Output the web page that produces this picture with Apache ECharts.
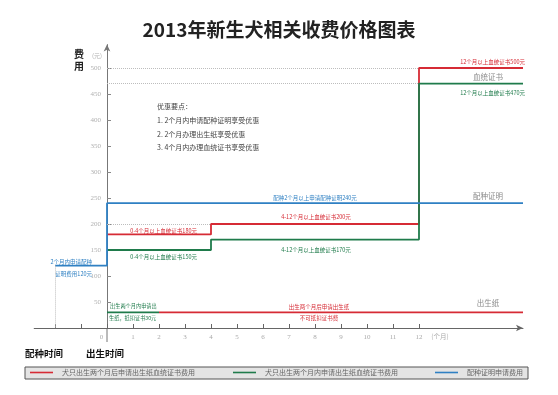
<!DOCTYPE html>
<html>
<head>
<meta charset="utf-8">
<script src="https://cdn.jsdelivr.net/npm/echarts@6/dist/echarts.min.js"></script>
<style>
html,body{margin:0;padding:0;background:#fff;}
#c{width:558px;height:395px;}
</style>
</head>
<body>
<div id="c"></div>
<script>
// ---- data ----
const seriesNames = ['犬只出生两个月后申请出生纸血统证书费用', '犬只出生两个月内申请出生纸血统证书费用', '配种证明申请费用'];
const redSteps = [[0, 180], [4, 180], [4, 200], [12, 200], [12, 500], [16, 500]];
const greenSteps = [[0, 150], [4, 150], [4, 170], [12, 170], [12, 470], [16, 470]];
const blueSteps = [[-2, 120], [0, 120], [0, 240], [16, 240]];
const birthPaperAfter = [[2, 30], [16, 30]];
const birthPaperWithin = [[0, 30], [2, 30]];
const xTickValues = [-2, -1, 0, 1, 2, 3, 4, 5, 6, 7, 8, 9, 10, 11, 12];
const xLabelValues = [0, 1, 2, 3, 4, 5, 6, 7, 8, 9, 10, 11, 12];
const yTickValues = [50, 100, 150, 200, 250, 300, 350, 400, 450, 500];
const guideLines = [
  [[0, 500], [12, 500]],
  [[0, 470], [12, 470]],
  [[0, 200], [4, 200]],
  [[-2, 120], [-2, 0]]
];

const RED = '#d62b35', GREEN = '#1f7b4b', BLUE = '#2f80c3', GRAY = '#8a8a8a';
const CJK = '"Noto Sans CJK SC","Noto Sans",sans-serif';

const GRID_LEFT = 34.2, GRID_RIGHT = 35, GRID_TOP = 44.6, GRID_BOTTOM = 67;
const X_MIN = -2.8, X_MAX = 16;
const plotW = 558 - GRID_LEFT - GRID_RIGHT;
const yAxisShift = -(0 - X_MIN) / (X_MAX - X_MIN) * plotW; // move y axis to x = 0

function txt(text, x, y, color, size, align, weight) {
  return {
    type: 'text', x: x, y: y, silent: true,
    style: {
      text: text, fill: color, font: (weight || 'normal') + ' ' + size + 'px ' + CJK,
      textAlign: align || 'center', textVerticalAlign: 'middle'
    }
  };
}

const chart = echarts.init(document.getElementById('c'), null, {renderer: 'canvas'});

const lineSeries = (name, data, color) => ({
  name: name, type: 'line', data: data, showSymbol: false, symbol: 'none',
  lineStyle: {color: color, width: 1.8}, itemStyle: {color: color},
  animation: false, silent: true
});

const option = {
  backgroundColor: '#fff',
  animation: false,
  title: {
    text: '2013年新生犬相关收费价格图表', left: 'center', top: 15,
    textStyle: {fontSize: 19, fontWeight: 'bold', color: '#222', fontFamily: CJK}
  },
  grid: {left: GRID_LEFT, right: GRID_RIGHT, top: GRID_TOP, bottom: GRID_BOTTOM, containLabel: false},
  xAxis: {
    type: 'value', min: X_MIN, max: X_MAX,
    axisLine: {show: true, onZero: false, symbol: ['none', 'arrow'], symbolSize: [5, 7],
      lineStyle: {color: '#666', width: 1}},
    axisTick: {show: true, inside: true, length: 4, customValues: xTickValues,
      lineStyle: {color: '#666'}},
    axisLabel: {show: true, customValues: xLabelValues, margin: 6, fontSize: 7,
      color: '#aaa', fontFamily: '"Liberation Serif",serif',
      formatter: v => (v === 0 ? '{z|0}' : String(v)),
      rich: {z: {fontSize: 7, color: '#aaa', fontFamily: '"Liberation Serif",serif', padding: [0, 11, 0, 0]}}},
    splitLine: {show: false}
  },
  yAxis: {
    type: 'value', min: 0, max: 545, offset: yAxisShift,
    axisLine: {show: true, onZero: false, symbol: ['none', 'arrow'], symbolSize: [5, 7],
      lineStyle: {color: '#777', width: 1}},
    axisTick: {show: true, inside: true, length: 4, customValues: yTickValues,
      lineStyle: {color: '#888'}},
    axisLabel: {show: true, customValues: yTickValues, margin: 6, fontSize: 7,
      color: '#b0b0b0', fontFamily: '"Liberation Serif",serif'},
    splitLine: {show: false}
  },
  legend: [
    {data: [seriesNames[0]], left: 30, top: 369},
    {data: [seriesNames[1]], left: 233, top: 369},
    {data: [seriesNames[2]], left: 435, top: 369}
  ].map(l => Object.assign(l, {
    icon: 'rect', itemWidth: 23, itemHeight: 1.6, padding: 0, selectedMode: false,
    textStyle: {fontSize: 7, color: '#666', fontFamily: CJK, padding: [0, 0, 0, 4]}
  })),
  series: [
    Object.assign(lineSeries(seriesNames[0], redSteps, RED), {
      markLine: {
        silent: true, symbol: 'none', animation: false,
        label: {show: false},
        lineStyle: {color: '#bdbdbd', type: 'dotted', width: 1},
        data: guideLines.map(seg => [{coord: seg[0]}, {coord: seg[1]}])
      }
    }),
    lineSeries(seriesNames[1], greenSteps, GREEN),
    lineSeries(seriesNames[2], blueSteps, BLUE),
    lineSeries(seriesNames[0], birthPaperAfter, RED),
    lineSeries(seriesNames[1], birthPaperWithin, GREEN)
  ],
  graphic: [
    {type: 'rect', z: -1, silent: true, shape: {x: 25, y: 367, width: 503, height: 12},
      style: {fill: '#e4e4e4', stroke: '#555', lineWidth: 1}},
    {type: 'line', silent: true, shape: {x1: 107, y1: 328, x2: 107, y2: 342},
      style: {stroke: '#777', lineWidth: 1}},
    txt('费', 79, 54, '#222', 10, 'center', 'bold'),
    txt('用', 79, 66, '#222', 10, 'center', 'bold'),
    txt('(元)', 97, 56, '#b0b0b0', 6),
    txt('优惠要点：', 157, 106.5, '#444', 7, 'left'),
    txt('1. 2个月内申请配种证明享受优惠', 157, 120, '#444', 7, 'left'),
    txt('2. 2个月办理出生纸享受优惠', 157, 134, '#444', 7, 'left'),
    txt('3. 4个月内办理血统证书享受优惠', 157, 147.5, '#444', 7, 'left'),
    txt('12个月以上血统证书500元', 525, 62, RED, 5.5, 'right'),
    txt('血统证书', 488, 77.5, GRAY, 7.5),
    txt('12个月以上血统证书470元', 525, 93, GREEN, 5.5, 'right'),
    txt('配种证明', 488, 196.5, GRAY, 7.5),
    txt('配种2个月以上申请配种证明240元', 315, 198, BLUE, 5.5),
    txt('4-12个月以上血统证书200元', 316, 217, RED, 5.5),
    txt('4-12个月以上血统证书170元', 316, 249.5, GREEN, 5.5),
    txt('0-4个月以上血统证书180元', 197, 231, RED, 5.5, 'right'),
    txt('0-4个月以上血统证书150元', 197, 256.5, GREEN, 5.5, 'right'),
    txt('2个月内申请配种', 92, 262, BLUE, 5.5, 'right'),
    txt('证明费用120元', 92, 274, BLUE, 5.5, 'right'),
    txt('出生两个月内申请出', 110, 306, GREEN, 5.2, 'left'),
    txt('生纸，抵扣证书30元', 109, 318, GREEN, 5.2, 'left'),
    txt('出生两个月后申请出生纸', 319, 306.5, RED, 5.5),
    txt('不可抵扣证书费', 319, 318, RED, 5.5),
    txt('出生纸', 488, 303, GRAY, 7.5),
    txt('(个月)', 440, 337, '#aaa', 6.5),
    txt('配种时间', 44, 353, '#111', 9.5, 'center', 'bold'),
    txt('出生时间', 105, 353, '#111', 9.5, 'center', 'bold')
  ]
};
chart.setOption(option);
</script>
</body>
</html>
